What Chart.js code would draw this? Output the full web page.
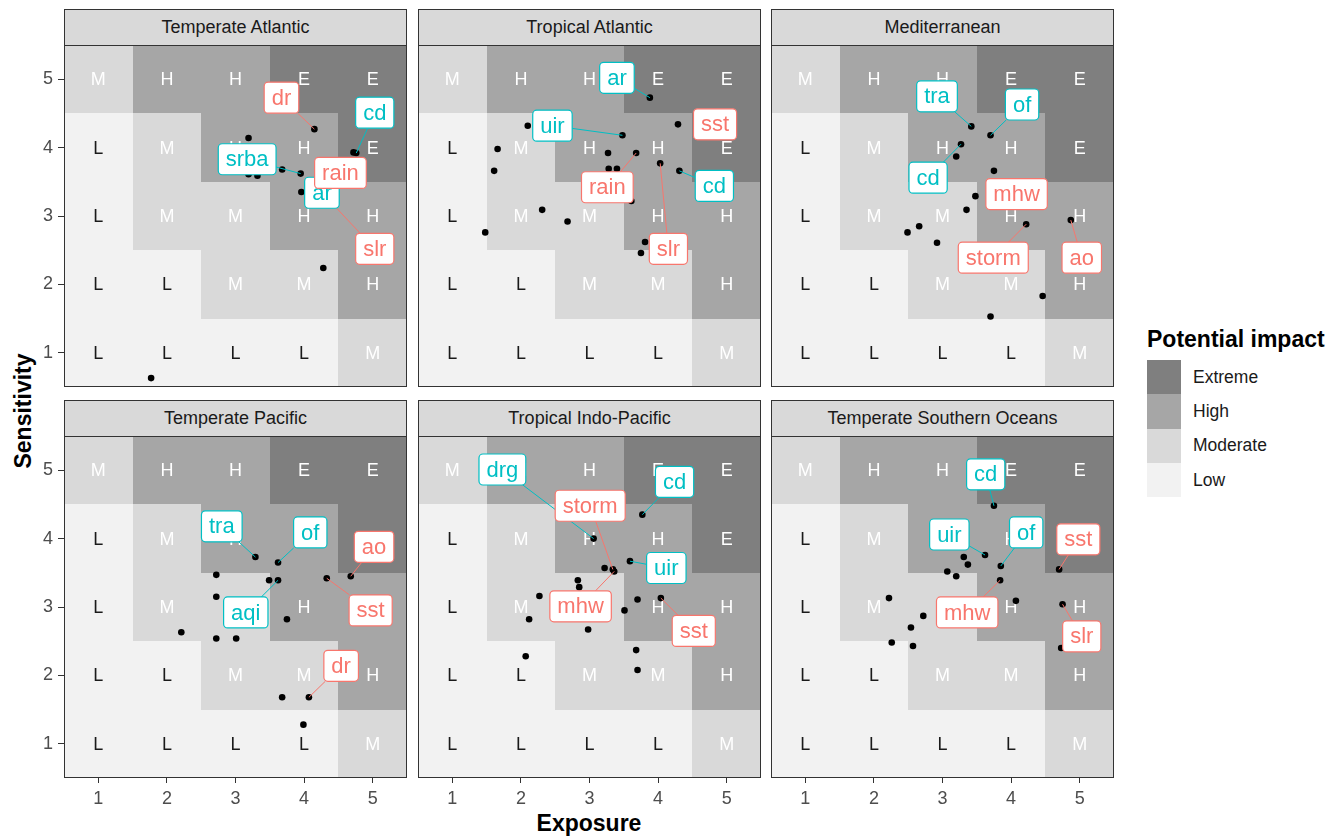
<!DOCTYPE html>
<html>
<head>
<meta charset="utf-8">
<script src="https://cdn.jsdelivr.net/npm/chart.js@4.4.1/dist/chart.umd.min.js"></script>
<style>
  html, body { margin: 0; padding: 0; background: #fff; }
  body { width: 1343px; height: 838px; position: relative; overflow: hidden;
         font-family: "Liberation Sans", Arial, Helvetica, sans-serif; }
  canvas { position: absolute; }
  .strip { position: absolute; box-sizing: border-box; height: 37px; background: #d9d9d9;
           border: 1px solid #333; color: #1a1a1a; font-size: 18px;
           display: flex; align-items: center; justify-content: center; }
  .axis-title { position: absolute; font-weight: bold; font-size: 23px; color: #000; white-space: nowrap; }
  #legend { position: absolute; left: 1147px; top: 324px; }
  #legend .title { font-weight: bold; font-size: 23px; color: #000; height: 36px; line-height: 30px; white-space: nowrap; }
  #legend .row { display: flex; align-items: center; height: 34.3px; }
  #legend .key { width: 34px; height: 34.3px; }
  #legend .lab { margin-left: 12px; font-size: 17.5px; color: #1a1a1a; }
</style>
</head>
<body>
<div id="legend"></div>
<div class="axis-title" id="xTitle" style="left:589px; top:823px; transform:translate(-50%,-50%);">Exposure</div>
<div class="axis-title" id="yTitle" style="left:23px; top:411px; transform:translate(-50%,-50%) rotate(-90deg);">Sensitivity</div>

<script>
// ---- facets and axes ----
const regions = ['Temperate Atlantic', 'Tropical Atlantic', 'Mediterranean',
                 'Temperate Pacific', 'Tropical Indo-Pacific', 'Temperate Southern Oceans'];
const tickValues = [1, 2, 3, 4, 5];

// ---- potential impact matrix: rows are sensitivity 5..1, columns exposure 1..5 ----
const impactRows = ['MHHEE', 'LMHHE', 'LMMHH', 'LLMMH', 'LLLLM'];
const impactCodes = ['E', 'H', 'M', 'L'];
const impactNames = ['Extreme', 'High', 'Moderate', 'Low'];

// drivers treated as climate drivers (others are non-climate)
const climateDrivers = ['dr', 'rain', 'slr', 'sst', 'storm', 'mhw', 'ao'];

// ---- Temperate Atlantic ----
const exposureTA    = [4.15, 4.76, 3.95, 3.96, 4.72, 4.30, 3.19, 3.68, 3.19, 3.32, 4.28, 1.77];
const sensitivityTA = [4.27, 3.92, 3.62, 3.35, 3.93, 3.30, 4.14, 3.68, 3.61, 3.59, 2.24, 0.63];
const driverTA      = ['dr', 'cd', 'srba', 'ar', 'rain', 'slr', '', '', '', '', '', ''];

// ---- Tropical Atlantic ----
const exposureTrA    = [3.88, 3.48, 4.80, 4.31, 3.68, 4.03, 2.10, 4.29, 1.66, 3.27, 1.61, 3.28, 3.40, 3.61, 2.31, 2.68, 1.48, 3.81, 3.75];
const sensitivityTrA = [4.73, 4.18, 4.30, 3.66, 3.92, 3.77, 4.32, 4.34, 3.98, 3.92, 3.66, 3.69, 3.69, 3.22, 3.09, 2.92, 2.76, 2.62, 2.46];
const driverTrA      = ['ar', 'uir', 'sst', 'cd', 'rain', 'slr', '', '', '', '', '', '', '', '', '', '', '', '', ''];

// ---- Mediterranean ----
const exposureMed    = [3.42, 3.70, 3.27, 3.48, 4.22, 4.87, 3.20, 3.75, 3.35, 2.66, 2.49, 2.92, 4.46, 3.70];
const sensitivityMed = [4.31, 4.18, 4.05, 3.29, 2.88, 2.94, 3.87, 3.66, 3.09, 2.85, 2.76, 2.61, 1.83, 1.53];
const driverMed      = ['tra', 'of', 'cd', 'mhw', 'storm', 'ao', '', '', '', '', '', '', '', ''];

// ---- Temperate Pacific ----
const exposureTP    = [3.29, 3.62, 4.68, 3.62, 4.33, 4.07, 2.72, 3.49, 2.72, 3.75, 2.21, 2.72, 3.01, 3.68, 3.99];
const sensitivityTP = [3.73, 3.65, 3.45, 3.39, 3.42, 1.68, 3.47, 3.39, 3.15, 2.82, 2.63, 2.54, 2.54, 1.68, 1.28];
const driverTP      = ['tra', 'of', 'ao', 'aqi', 'sst', 'dr', '', '', '', '', '', '', '', '', ''];

// ---- Tropical Indo-Pacific ----
const exposureTIP    = [3.06, 3.34, 3.77, 3.59, 3.36, 4.04, 3.22, 2.83, 2.85, 2.27, 3.70, 3.51, 2.12, 2.98, 3.68, 3.70, 2.07];
const sensitivityTIP = [4.00, 3.55, 4.35, 3.67, 3.52, 3.13, 3.57, 3.39, 3.29, 3.16, 3.11, 2.95, 2.82, 2.67, 2.37, 2.08, 2.28];
const driverTIP      = ['drg', 'storm', 'cd', 'uir', 'mhw', 'sst', '', '', '', '', '', '', '', '', '', '', ''];

// ---- Temperate Southern Oceans ----
const exposureTSO    = [3.75, 3.62, 3.85, 4.70, 3.84, 4.75, 3.31, 3.37, 3.07, 3.20, 4.07, 2.22, 2.72, 2.54, 2.26, 2.57, 4.73];
const sensitivityTSO = [4.48, 3.76, 3.60, 3.55, 3.39, 3.04, 3.73, 3.62, 3.52, 3.45, 3.09, 3.13, 2.87, 2.70, 2.48, 2.43, 2.40];
const driverTSO      = ['cd', 'uir', 'of', 'sst', 'mhw', 'slr', '', '', '', '', '', '', '', '', '', '', ''];

// ---- where each repelled label box sits (exposure, sensitivity) ----
const labelSpotTA  = { dr: [3.67, 4.73], cd: [5.03, 4.51], srba: [3.17, 3.83], ar: [4.26, 3.34], rain: [4.53, 3.63], slr: [5.03, 2.52] };
const labelSpotTrA = { ar: [3.40, 5.02], uir: [2.46, 4.32], sst: [4.83, 4.34], cd: [4.82, 3.44], rain: [3.26, 3.42], slr: [4.15, 2.52] };
const labelSpotMed = { tra: [2.92, 4.75], of: [4.16, 4.63], cd: [2.79, 3.56], mhw: [4.08, 3.32], storm: [3.74, 2.39], ao: [5.03, 2.39] };
const labelSpotTP  = { tra: [2.80, 4.18], of: [4.09, 4.09], ao: [5.02, 3.88], aqi: [3.15, 2.92], sst: [4.97, 2.95], dr: [4.54, 2.14] };
const labelSpotTIP = { drg: [1.73, 5.01], storm: [3.01, 4.48], cd: [4.24, 4.83], uir: [4.12, 3.57], mhw: [2.87, 3.01], sst: [4.52, 2.65] };
const labelSpotTSO = { cd: [3.63, 4.94], uir: [3.10, 4.06], of: [4.22, 4.09], sst: [4.98, 3.99], mhw: [3.36, 2.92], slr: [5.03, 2.57] };

const panelExposure    = [exposureTA, exposureTrA, exposureMed, exposureTP, exposureTIP, exposureTSO];
const panelSensitivity = [sensitivityTA, sensitivityTrA, sensitivityMed, sensitivityTP, sensitivityTIP, sensitivityTSO];
const panelDrivers     = [driverTA, driverTrA, driverMed, driverTP, driverTIP, driverTSO];
const panelLabelSpots  = [labelSpotTA, labelSpotTrA, labelSpotMed, labelSpotTP, labelSpotTIP, labelSpotTSO];

// ---- styling ----
const FONT = '"Liberation Sans", Arial, Helvetica, sans-serif';
const impactFill = { E: '#7f7f7f', H: '#a6a6a6', M: '#d9d9d9', L: '#f2f2f2' };
const impactInk  = { E: '#ffffff', H: '#ffffff', M: '#ffffff', L: '#1a1a1a' };
const CLIMATE = '#F8766D', NONCLIMATE = '#00BFC4';
const colLeft = [64, 418, 771];
const rowTop = [45, 436];
const PANEL_W = 343, PANEL_H = 342;
const Y_AXIS_W = 50, X_AXIS_H = 35;

Chart.defaults.font.family = FONT;

function roundRectPath(ctx, x, y, w, h, r) {
  ctx.beginPath();
  ctx.moveTo(x + r, y);
  ctx.lineTo(x + w - r, y);
  ctx.arcTo(x + w, y, x + w, y + r, r);
  ctx.lineTo(x + w, y + h - r);
  ctx.arcTo(x + w, y + h, x + w - r, y + h, r);
  ctx.lineTo(x + r, y + h);
  ctx.arcTo(x, y + h, x, y + h - r, r);
  ctx.lineTo(x, y + r);
  ctx.arcTo(x, y, x + r, y, r);
  ctx.closePath();
}

// impact tiles with their letter codes, under the points
const impactTiles = {
  id: 'impactTiles',
  beforeDatasetsDraw(chart) {
    const { ctx, chartArea: a, scales: { x, y } } = chart;
    ctx.save();
    ctx.beginPath(); ctx.rect(a.left, a.top, a.width, a.height); ctx.clip();
    impactRows.forEach((row, r) => {
      const sv = tickValues[tickValues.length - 1 - r];
      [...row].forEach((code, c) => {
        const ev = tickValues[c];
        const x0 = Math.round(x.getPixelForValue(ev - 0.5)), x1 = Math.round(x.getPixelForValue(ev + 0.5));
        const y0 = Math.round(y.getPixelForValue(sv + 0.5)), y1 = Math.round(y.getPixelForValue(sv - 0.5));
        ctx.fillStyle = impactFill[code];
        ctx.fillRect(x0, y0, x1 - x0, y1 - y0);
      });
    });
    ctx.font = '18px ' + FONT;
    ctx.textAlign = 'center';
    ctx.textBaseline = 'middle';
    impactRows.forEach((row, r) => {
      const sv = tickValues[tickValues.length - 1 - r];
      [...row].forEach((code, c) => {
        ctx.fillStyle = impactInk[code];
        ctx.fillText(code, x.getPixelForValue(tickValues[c]), y.getPixelForValue(sv) + 1);
      });
    });
    ctx.restore();
  }
};

// frame around each panel
const panelFrame = {
  id: 'panelFrame',
  afterDraw(chart) {
    const { ctx, chartArea: a } = chart;
    ctx.save();
    ctx.strokeStyle = '#333333';
    ctx.lineWidth = 1;
    ctx.strokeRect(a.left + 0.5, a.top + 0.5, a.width - 1, a.height - 1);
    ctx.restore();
  }
};

// repelled driver labels with leader segments
function driverLabels(exp, sens, drivers, spots) {
  return {
    id: 'driverLabels',
    afterDatasetsDraw(chart) {
      const { ctx, chartArea: a, scales: { x, y } } = chart;
      ctx.save();
      ctx.beginPath(); ctx.rect(a.left, a.top, a.width, a.height); ctx.clip();
      ctx.font = '22px ' + FONT;
      const items = [];
      drivers.forEach((d, i) => {
        if (!d) return;
        const spot = spots[d];
        items.push({
          d,
          col: climateDrivers.includes(d) ? CLIMATE : NONCLIMATE,
          px: x.getPixelForValue(exp[i]), py: y.getPixelForValue(sens[i]),
          cx: x.getPixelForValue(spot[0]), cy: y.getPixelForValue(spot[1]),
          w: ctx.measureText(d).width + 15, h: 31
        });
      });
      items.forEach(it => {
        const dx = it.px - it.cx, dy = it.py - it.cy;
        if (Math.abs(dx) <= it.w / 2 && Math.abs(dy) <= it.h / 2) return;
        const tx = Math.abs(dx) > 0 ? (it.w / 2) / Math.abs(dx) : Infinity;
        const ty = Math.abs(dy) > 0 ? (it.h / 2) / Math.abs(dy) : Infinity;
        const t = Math.min(tx, ty);
        const ex = it.cx + dx * t, ey = it.cy + dy * t;
        if (Math.hypot(it.px - ex, it.py - ey) < 13) return;
        ctx.strokeStyle = it.col;
        ctx.lineWidth = 1;
        ctx.beginPath(); ctx.moveTo(it.px, it.py); ctx.lineTo(ex, ey); ctx.stroke();
      });
      items.forEach(it => {
        roundRectPath(ctx, it.cx - it.w / 2, it.cy - it.h / 2, it.w, it.h, 4);
        ctx.fillStyle = '#ffffff';
        ctx.fill();
        ctx.strokeStyle = it.col;
        ctx.lineWidth = 1.2;
        ctx.stroke();
        ctx.fillStyle = it.col;
        ctx.textAlign = 'center';
        ctx.textBaseline = 'middle';
        ctx.fillText(it.d, it.cx, it.cy + 1);
      });
      ctx.restore();
    }
  };
}

function fixedTicks(scale) {
  scale.ticks = tickValues.map(v => ({ value: v }));
}

regions.forEach((name, p) => {
  const r = Math.floor(p / 3), c = p % 3;
  const showY = c === 0, showX = r === 1;

  const strip = document.createElement('div');
  strip.className = 'strip';
  strip.textContent = name;
  strip.style.left = colLeft[c] + 'px';
  strip.style.top = (rowTop[r] - 36) + 'px';
  strip.style.width = PANEL_W + 'px';
  document.body.appendChild(strip);

  const cv = document.createElement('canvas');
  const w = PANEL_W + (showY ? Y_AXIS_W : 0);
  const h = PANEL_H + (showX ? X_AXIS_H : 0);
  cv.width = w; cv.height = h;
  cv.style.width = w + 'px'; cv.style.height = h + 'px';
  cv.style.left = (colLeft[c] - (showY ? Y_AXIS_W : 0)) + 'px';
  cv.style.top = rowTop[r] + 'px';
  document.body.appendChild(cv);

  const exp = panelExposure[p], sens = panelSensitivity[p];
  const axisCommon = {
    type: 'linear', min: 0.5, max: 5.5,
    afterBuildTicks: fixedTicks,
    grid: { drawOnChartArea: false, drawTicks: true, tickLength: 6, tickColor: '#333333', tickWidth: 1 },
    border: { display: false },
    ticks: { color: '#4d4d4d', font: { size: 18, family: FONT }, maxRotation: 0, autoSkip: false }
  };

  new Chart(cv, {
    type: 'scatter',
    data: {
      datasets: [{
        data: exp.map((e, i) => ({ x: e, y: sens[i] })),
        pointRadius: 3.3,
        pointHoverRadius: 3.3,
        pointBackgroundColor: '#000000',
        pointBorderWidth: 0
      }]
    },
    options: {
      responsive: false,
      animation: false,
      devicePixelRatio: 1,
      layout: { padding: 0, autoPadding: false },
      events: [],
      plugins: { legend: { display: false }, tooltip: { enabled: false } },
      scales: {
        x: Object.assign({}, axisCommon, {
          display: showX,
          grid: Object.assign({}, axisCommon.grid, { tickLength: 5 }),
          ticks: Object.assign({}, axisCommon.ticks, { padding: 5 }),
          afterFit(s) {
            s.height = showX ? X_AXIS_H : 0;
            s.paddingLeft = 0; s.paddingRight = 0; s.paddingTop = 0; s.paddingBottom = 0;
          }
        }),
        y: Object.assign({}, axisCommon, {
          display: showY,
          ticks: Object.assign({}, axisCommon.ticks, { padding: 5 }),
          afterFit(s) {
            s.width = showY ? Y_AXIS_W : 0;
            s.paddingLeft = 0; s.paddingRight = 0; s.paddingTop = 0; s.paddingBottom = 0;
          }
        })
      }
    },
    plugins: [impactTiles, driverLabels(exp, sens, panelDrivers[p], panelLabelSpots[p]), panelFrame]
  });
});

// legend for the potential impact fill
const legend = document.getElementById('legend');
const lt = document.createElement('div');
lt.className = 'title';
lt.textContent = 'Potential impact';
legend.appendChild(lt);
impactNames.forEach((n, i) => {
  const row = document.createElement('div');
  row.className = 'row';
  const key = document.createElement('div');
  key.className = 'key';
  key.style.background = impactFill[impactCodes[i]];
  const lab = document.createElement('div');
  lab.className = 'lab';
  lab.textContent = n;
  row.appendChild(key); row.appendChild(lab);
  legend.appendChild(row);
});
</script>
</body>
</html>
